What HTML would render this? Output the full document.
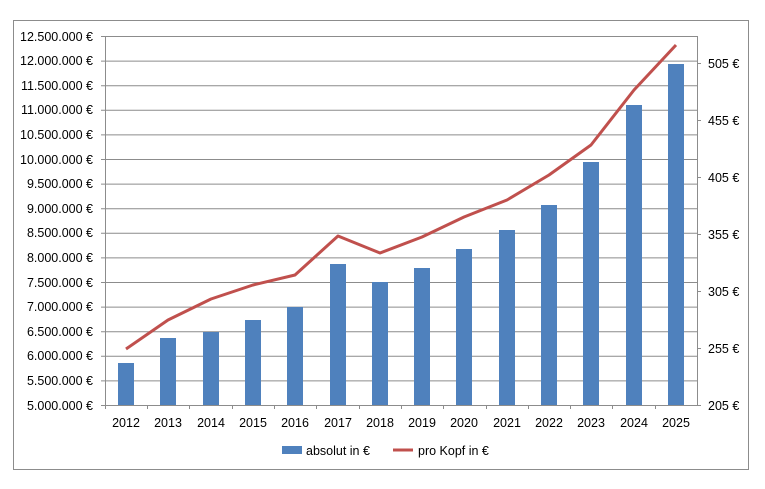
<!DOCTYPE html>
<html><head><meta charset="utf-8"><style>
body{margin:0;background:#fff;}
svg{display:block;font-family:"Liberation Sans",sans-serif;font-size:12.5px;fill:#000;}
</style></head><body>
<svg width="765" height="489" xmlns="http://www.w3.org/2000/svg">
<rect x="13.5" y="20.5" width="735" height="449" fill="#fff" stroke="#8c8c8c" stroke-width="1"/>
<g stroke="#8c8c8c" stroke-width="1">
<line x1="101" y1="36.5" x2="697" y2="36.5"/><line x1="101" y1="61.1" x2="697" y2="61.1"/><line x1="101" y1="85.7" x2="697" y2="85.7"/><line x1="101" y1="110.3" x2="697" y2="110.3"/><line x1="101" y1="134.9" x2="697" y2="134.9"/><line x1="101" y1="159.5" x2="697" y2="159.5"/><line x1="101" y1="184.1" x2="697" y2="184.1"/><line x1="101" y1="208.7" x2="697" y2="208.7"/><line x1="101" y1="233.3" x2="697" y2="233.3"/><line x1="101" y1="257.9" x2="697" y2="257.9"/><line x1="101" y1="282.5" x2="697" y2="282.5"/><line x1="101" y1="307.1" x2="697" y2="307.1"/><line x1="101" y1="331.7" x2="697" y2="331.7"/><line x1="101" y1="356.3" x2="697" y2="356.3"/><line x1="101" y1="380.9" x2="697" y2="380.9"/>
<line x1="105.5" y1="36" x2="105.5" y2="405"/><line x1="697.5" y1="36" x2="697.5" y2="405"/>
<line x1="101" y1="405.5" x2="701" y2="405.5"/>
<line x1="697" y1="63.5" x2="701" y2="63.5"/><line x1="697" y1="120.5" x2="701" y2="120.5"/><line x1="697" y1="177.5" x2="701" y2="177.5"/><line x1="697" y1="234.5" x2="701" y2="234.5"/><line x1="697" y1="291.5" x2="701" y2="291.5"/><line x1="697" y1="348.5" x2="701" y2="348.5"/>
<line x1="147.5" y1="405" x2="147.5" y2="409"/><line x1="189.5" y1="405" x2="189.5" y2="409"/><line x1="232.5" y1="405" x2="232.5" y2="409"/><line x1="274.5" y1="405" x2="274.5" y2="409"/><line x1="316.5" y1="405" x2="316.5" y2="409"/><line x1="359.5" y1="405" x2="359.5" y2="409"/><line x1="401.5" y1="405" x2="401.5" y2="409"/><line x1="443.5" y1="405" x2="443.5" y2="409"/><line x1="486.5" y1="405" x2="486.5" y2="409"/><line x1="528.5" y1="405" x2="528.5" y2="409"/><line x1="570.5" y1="405" x2="570.5" y2="409"/><line x1="612.5" y1="405" x2="612.5" y2="409"/><line x1="655.5" y1="405" x2="655.5" y2="409"/><line x1="105.5" y1="405" x2="105.5" y2="409"/>
</g>
<g fill="#4f81bd">
<rect x="118" y="363" width="16" height="42"/><rect x="160" y="338" width="16" height="67"/><rect x="203" y="332" width="16" height="73"/><rect x="245" y="320" width="16" height="85"/><rect x="287" y="307" width="16" height="98"/><rect x="330" y="264" width="16" height="141"/><rect x="372" y="282" width="16" height="123"/><rect x="414" y="268" width="16" height="137"/><rect x="456" y="249" width="16" height="156"/><rect x="499" y="230" width="16" height="175"/><rect x="541" y="205" width="16" height="200"/><rect x="583" y="162" width="16" height="243"/><rect x="626" y="105" width="16" height="300"/><rect x="668" y="64" width="16" height="341"/>
</g>
<polyline fill="none" stroke="#c0504d" stroke-width="3" stroke-linejoin="round" points="126,349 168,320 211,299 253,285 295,275 338,236 380,253 422,237 464,217 507,200 549,175 591,145 634,90 676,45"/>
<g text-anchor="end">
<text x="93" y="41">12.500.000 €</text><text x="93" y="65">12.000.000 €</text><text x="93" y="90">11.500.000 €</text><text x="93" y="114">11.000.000 €</text><text x="93" y="139">10.500.000 €</text><text x="93" y="164">10.000.000 €</text><text x="93" y="188">9.500.000 €</text><text x="93" y="213">9.000.000 €</text><text x="93" y="237">8.500.000 €</text><text x="93" y="262">8.000.000 €</text><text x="93" y="287">7.500.000 €</text><text x="93" y="311">7.000.000 €</text><text x="93" y="336">6.500.000 €</text><text x="93" y="360">6.000.000 €</text><text x="93" y="385">5.500.000 €</text><text x="93" y="410">5.000.000 €</text>
</g>
<g>
<text x="708" y="68">505 €</text><text x="708" y="125">455 €</text><text x="708" y="182">405 €</text><text x="708" y="239">355 €</text><text x="708" y="296">305 €</text><text x="708" y="353">255 €</text><text x="708" y="410">205 €</text>
</g>
<g text-anchor="middle">
<text x="126" y="427">2012</text><text x="168" y="427">2013</text><text x="211" y="427">2014</text><text x="253" y="427">2015</text><text x="295" y="427">2016</text><text x="338" y="427">2017</text><text x="380" y="427">2018</text><text x="422" y="427">2019</text><text x="464" y="427">2020</text><text x="507" y="427">2021</text><text x="549" y="427">2022</text><text x="591" y="427">2023</text><text x="634" y="427">2024</text><text x="676" y="427">2025</text>
</g>
<rect x="282" y="446" width="20" height="8" fill="#4f81bd"/>
<text x="306" y="455">absolut in €</text>
<line x1="393" y1="450" x2="413" y2="450" stroke="#c0504d" stroke-width="3"/>
<text x="418" y="455">pro Kopf in €</text>
</svg>
</body></html>
